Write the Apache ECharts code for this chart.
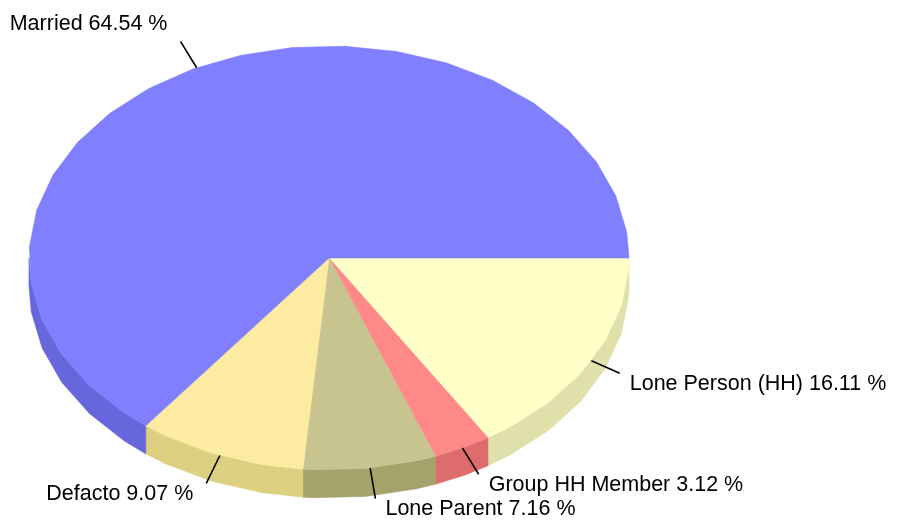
<!DOCTYPE html>
<html>
<head>
<meta charset="utf-8">
<script src="https://cdn.jsdelivr.net/npm/echarts@6/dist/echarts.min.js"></script>
<style>
html, body { margin: 0; padding: 0; background: #ffffff; }
#pie3d { width: 899px; height: 523px; }
</style>
</head>
<body>
<div id="pie3d"></div>
<script>
// slices, clockwise from 3 o'clock
var categories = ['Lone Person (HH)', 'Group HH Member', 'Lone Parent', 'Defacto', 'Married']
var shares = [16.11, 3.12, 7.16, 9.07, 64.54]

var topColors = ['#FFFFC8', '#FF8888', '#C8C48F', '#FCEBA0', '#8080FF']
var sideColors = ['#E0E0AA', '#DE6C6C', '#A5A36B', '#DDD080', '#6666DD']

// ellipse geometry of the fake 3d pie
var cx = 329, cy = 258, rx = 300, ry = 212, depth = 28
var total = shares.reduce(function (a, b) { return a + b }, 0)
var starts = []
var acc = 0
for (var i = 0; i < shares.length; i++) {
  starts.push(acc / total * Math.PI * 2)
  acc += shares[i]
}

function pt (t, dy) {
  return [cx + rx * Math.cos(t), cy + ry * Math.sin(t) + (dy || 0)]
}

// rim points between a and b, faceted every 10 degrees
function rim (a, b, dy) {
  var pts = [pt(a, dy)]
  var step = Math.PI / 18
  var off = Math.PI / 60
  var k = Math.ceil((a - off) / step + 1e-6)
  for (var t = off + k * step; t < b - 1e-6; t += step) pts.push(pt(t, dy))
  pts.push(pt(b, dy))
  return pts
}

function renderSlice (params, api) {
  var idx = params.dataIndex
  var val = api.value(0)
  var a = starts[idx]
  var b = a + val / total * Math.PI * 2
  var children = []

  // front wall, only the part facing the viewer (0..PI)
  var sa = Math.max(a, 0), sb = Math.min(b, Math.PI)
  if (sb > sa) {
    var wall = rim(sa, sb, 0).concat(rim(sa, sb, depth).reverse())
    children.push({
      type: 'polygon', z2: 1,
      shape: { points: wall },
      style: { fill: sideColors[idx], stroke: sideColors[idx], lineWidth: 0.6 }
    })
  }

  // top face
  children.push({
    type: 'polygon', z2: 2,
    shape: { points: [[cx, cy]].concat(rim(a, b, 0)) },
    style: { fill: topColors[idx], stroke: topColors[idx], lineWidth: 0.6 }
  })

  // label + connector
  var m = (a + b) / 2
  var c = Math.cos(m), s = Math.sin(m)
  var p0 = pt(m, 0)
  var dx = 1.25 * c, dy = s
  var len = Math.sqrt(dx * dx + dy * dy)
  var p1 = [p0[0] + 31 * dx / len, p0[1] + 31 * dy / len]
  children.push({
    type: 'polyline', z2: 3,
    shape: { points: [p0, p1] },
    style: { stroke: '#000000', lineWidth: 1.6, fill: null }
  })
  children.push({
    type: 'text', z2: 3,
    x: p1[0] + (c >= 0 ? 10 : -13),
    y: p1[1] + (s >= 0 ? 11 : -17),
    style: {
      text: categories[idx] + ' ' + val.toFixed(2) + ' %',
      fill: '#000000',
      font: '21.5px "Liberation Sans", Arial, sans-serif',
      align: c >= 0 ? 'left' : 'right',
      verticalAlign: 'middle'
    }
  })
  return { type: 'group', children: children }
}

var chart = echarts.init(document.getElementById('pie3d'))
chart.setOption({
  backgroundColor: '#ffffff',
  animation: false,
  series: [
    {
      type: 'custom',
      coordinateSystem: 'none',
      silent: true,
      renderItem: renderSlice,
      data: shares.map(function (v, i) { return { name: categories[i], value: [v] } })
    }
  ]
})
</script>
</body>
</html>
